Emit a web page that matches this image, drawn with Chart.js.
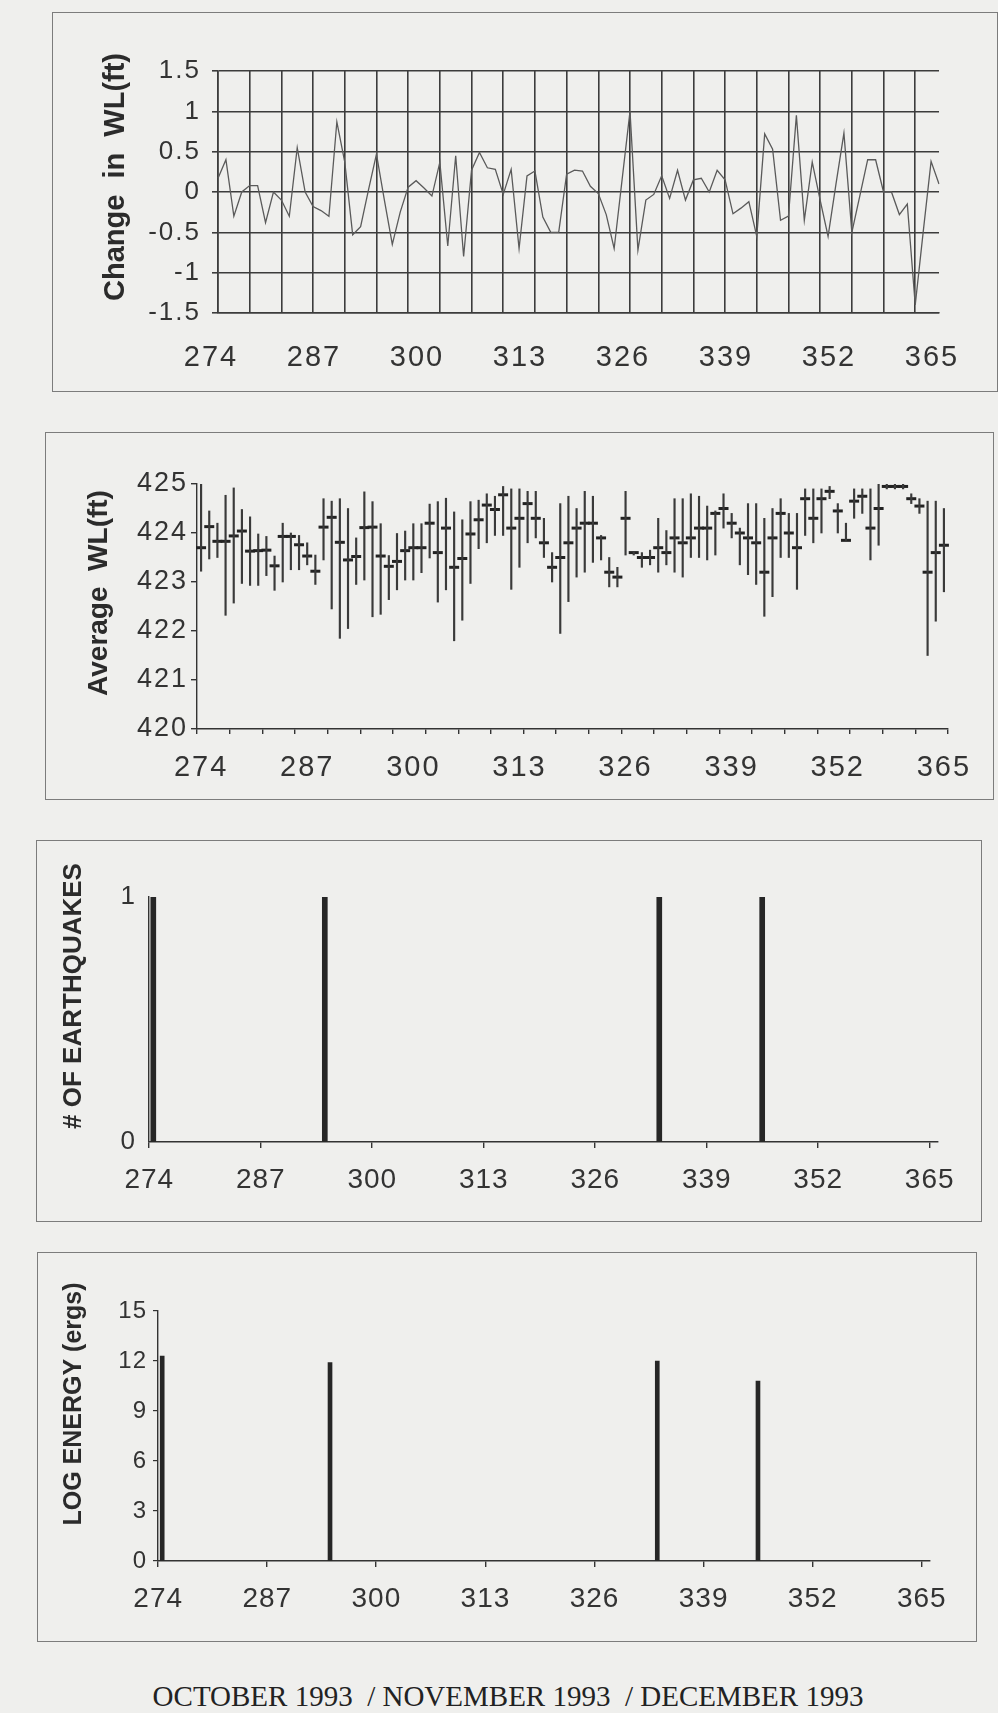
<!DOCTYPE html>
<html>
<head>
<meta charset="utf-8">
<script src="https://cdn.jsdelivr.net/npm/chart.js@4.4.1/dist/chart.umd.min.js"></script>
<style>
  html, body { margin: 0; padding: 0; }
  body { width: 998px; height: 1713px; background: #efefed; position: relative; overflow: hidden; }
  .frame { position: absolute; border: 1.5px solid #7c7c7c; }
  .frame canvas { display: block; }
  #caption {
    position: absolute; top: 1680px; left: 508px; transform: translateX(-50%);
    white-space: pre; font: 29px "Liberation Serif", "DejaVu Serif", serif; color: #222;
  }
</style>
</head>
<body>
<div class="frame" style="left:52px;top:12px;width:944px;height:378px"><canvas id="chart-change" width="944" height="378"></canvas></div>
<div class="frame" style="left:45px;top:432px;width:947px;height:366px"><canvas id="chart-avg" width="947" height="366"></canvas></div>
<div class="frame" style="left:36px;top:840px;width:944px;height:380px"><canvas id="chart-count" width="944" height="380"></canvas></div>
<div class="frame" style="left:37px;top:1252px;width:938px;height:388px"><canvas id="chart-energy" width="938" height="388"></canvas></div>
<div id="caption">OCTOBER 1993  / NOVEMBER 1993  / DECEMBER 1993</div>

<script>
const FIRST_DAY = 274;
const LAST_DAY = 365;
const labelDays = [274, 287, 300, 313, 326, 339, 352, 365];

// daily change in water level (ft), day 274..365
const wlChange = [
  0.17, 0.4, -0.3, 0.0, 0.08, 0.08, -0.38, 0.0, -0.1, -0.3,
  0.55, 0.0, -0.18, -0.23, -0.3, 0.87, 0.37, -0.53, -0.43, 0.03,
  0.47, -0.1, -0.65, -0.25, 0.06, 0.14, 0.05, -0.05, 0.37, -0.67,
  0.45, -0.8, 0.27, 0.49, 0.3, 0.28, -0.03, 0.28, -0.7, 0.2,
  0.26, -0.31, -0.5, -0.5, 0.22, 0.27, 0.26, 0.07, -0.02, -0.28,
  -0.7, 0.15, 1.0, -0.72, -0.1, -0.03, 0.2, -0.08, 0.27, -0.1,
  0.15, 0.17, 0.0, 0.27, 0.15, -0.27, -0.2, -0.12, -0.55, 0.72,
  0.53, -0.35, -0.3, 0.95, -0.35, 0.37, -0.1, -0.55, 0.1, 0.73,
  -0.5, -0.05, 0.4, 0.4, 0.0, 0.0, -0.28, -0.15, -1.4, -0.5,
  0.38, 0.1
];

// daily average / min / max water level (ft), day 274..365
const wlAvg = [
  423.7, 424.13, 423.83, 423.83, 423.94, 424.04, 423.63, 423.64, 423.65, 423.33,
  423.93, 423.93, 423.76, 423.53, 423.22, 424.12, 424.32, 423.81, 423.45, 423.52,
  424.11, 424.12, 423.53, 423.32, 423.42, 423.64, 423.7, 423.7, 424.2, 423.6,
  424.1, 423.3, 423.48, 423.98, 424.27, 424.57, 424.48, 424.78, 424.1, 424.3,
  424.6, 424.3, 423.8, 423.3, 423.5, 423.8, 424.1, 424.2, 424.2, 423.9,
  423.2, 423.1, 424.3, 423.6, 423.5, 423.5, 423.7, 423.6, 423.9, 423.8,
  423.9, 424.1, 424.1, 424.4, 424.5, 424.2, 424.0, 423.9, 423.8, 423.2,
  423.9, 424.4, 424.0, 423.7, 424.7, 424.3, 424.7, 424.85, 424.45, 423.85,
  424.65, 424.75, 424.1, 424.5, 424.95, 424.95, 424.95, 424.7, 424.55, 423.2,
  423.6, 423.75
];
const wlMin = [
  423.22, 423.47, 423.5, 422.32, 422.57, 422.97, 422.93, 422.93, 423.13, 422.83,
  423.0, 423.25, 423.25, 423.35, 422.95, 423.45, 422.45, 421.85, 422.05, 422.95,
  423.04, 422.29, 422.34, 422.64, 422.84, 423.04, 423.04, 423.19, 423.49, 422.59,
  422.84, 421.8, 422.22, 422.97, 423.68, 423.8, 423.95, 423.95, 422.85, 423.3,
  423.8, 423.9, 423.5, 423.0, 421.95, 422.6, 423.1, 423.2, 423.4, 423.45,
  422.9, 422.9, 423.55, 423.55, 423.3, 423.35, 423.2, 423.35, 423.2, 423.1,
  423.5, 423.5, 423.45, 423.55, 424.1, 423.9, 423.35, 423.15, 422.95, 422.3,
  422.7, 423.5, 423.5, 422.85, 423.95, 423.8, 424.0, 424.7, 424.0, 423.85,
  424.3, 424.4, 423.45, 423.75, 424.9, 424.9, 424.9, 424.6, 424.4, 421.5,
  422.2, 422.8
];
const wlMax = [
  425.0, 424.45, 424.2, 424.77, 424.92, 424.48, 424.33, 423.98, 423.93, 423.53,
  424.2, 424.0, 423.95, 423.8, 423.55, 424.7, 424.65, 424.7, 424.5, 423.9,
  424.84, 424.64, 424.19, 423.54, 423.99, 424.04, 424.19, 424.19, 424.59, 424.64,
  424.71, 424.43, 424.27, 424.64, 424.67, 424.8, 424.75, 424.95, 424.9, 424.9,
  424.85, 424.85, 424.3, 423.6, 424.6, 424.75, 424.5, 424.85, 424.75, 423.95,
  423.5, 423.3, 424.85, 423.62, 423.6, 423.65, 424.3, 424.05, 424.7, 424.7,
  424.8, 424.75, 424.55, 424.45, 424.8, 424.4, 424.1, 424.6, 424.6, 424.3,
  424.5, 424.7, 424.4, 424.4, 424.9, 424.9, 424.9, 424.95, 424.6, 424.2,
  424.9, 424.9, 424.9, 425.0, 425.0, 425.0, 425.0, 424.8, 424.7, 424.65,
  424.65, 424.5
];

// earthquakes
const quakeDays = [274, 294, 333, 345];
const quakeCount = [1, 1, 1, 1];
const quakeLogEnergy = [12.3, 11.9, 12.0, 10.8];

const days = [];
for (let d = FIRST_DAY; d <= LAST_DAY; d++) days.push(String(d));

const INK = '#333';
const GRID = '#3c3c3c';
const SANS = '"Liberation Sans", Arial, sans-serif';

Chart.defaults.font.family = SANS;
Chart.defaults.color = INK;
Chart.defaults.animation = false;
Chart.defaults.responsive = false;
Chart.defaults.plugins.legend.display = false;
Chart.defaults.plugins.tooltip.enabled = false;

function dayLabel(value) {
  const d = this.getLabelForValue(value);
  return labelDays.includes(+d) ? d : '';
}

// show a grid/tick line only on every n-th category
function everyNth(n, withEnd) {
  return ctx => {
    if (ctx.index === undefined) return withEnd ? INK : 'transparent';
    return ctx.index % n === 0 ? INK : 'transparent';
  };
}

function sideTitle(text, size, x, y) {
  return {
    id: 'sideTitle',
    afterDraw(chart) {
      const ctx = chart.ctx;
      ctx.save();
      ctx.letterSpacing = '0px';
      ctx.translate(x, y);
      ctx.rotate(-Math.PI / 2);
      ctx.font = `bold ${size}px ${SANS}`;
      ctx.fillStyle = '#2b2b2b';
      ctx.textAlign = 'center';
      ctx.textBaseline = 'middle';
      ctx.fillText(text, 0, 0);
      ctx.restore();
    }
  };
}

function spacing(px) {
  return { id: 'spacing', beforeDraw(chart) { chart.ctx.letterSpacing = px + 'px'; } };
}

// --- change in WL ---
new Chart(document.getElementById('chart-change'), {
  type: 'line',
  data: {
    labels: days,
    datasets: [{
      data: wlChange,
      borderColor: '#5a5a5a',
      borderWidth: 1.3,
      pointRadius: 0,
      tension: 0,
    }],
  },
  options: {
    layout: { padding: { top: 58, right: 58, left: 0, bottom: 0 } },
    scales: {
      x: {
        offset: false,
        grid: { offset: false, color: ctx => (ctx.index % 4 === 0 ? GRID : 'transparent'), lineWidth: 1.6, drawTicks: false },
        border: { color: GRID, width: 1.6 },
        ticks: { autoSkip: false, maxRotation: 0, minRotation: 0, padding: 28, labelOffset: -7, font: { size: 29 }, callback: dayLabel },
        afterFit: s => { s.height = 78; },
      },
      y: {
        min: -1.5,
        max: 1.5,
        ticks: { stepSize: 0.5, padding: 11, font: { size: 26 }, callback: v => String(v) },
        grid: { color: GRID, lineWidth: 1.6, tickLength: 6 },
        border: { color: GRID, width: 1.6 },
        afterFit: s => { s.width = 165; },
      },
    },
  },
  plugins: [spacing(2), sideTitle('Change  in  WL(ft)', 29, 63, 164)],
});

// --- average WL with daily range ---
new Chart(document.getElementById('chart-avg'), {
  type: 'bar',
  data: {
    labels: days,
    datasets: [
      {
        type: 'bar',
        data: wlMin.map((lo, i) => [lo, wlMax[i]]),
        backgroundColor: '#3a3a3a',
        barThickness: 1.5,
        borderWidth: 0,
      },
      {
        type: 'line',
        data: wlAvg,
        showLine: false,
        pointStyle: 'line',
        pointRadius: 5,
        pointBorderWidth: 3,
        pointBorderColor: '#222',
        borderColor: '#222',
      },
    ],
  },
  options: {
    layout: { padding: { top: 51, right: 45, left: 0, bottom: 0 } },
    scales: {
      x: {
        offset: true,
        grid: { offset: true, drawOnChartArea: false, tickLength: 5, lineWidth: 1.4, color: everyNth(4, true) },
        border: { color: INK, width: 1.4 },
        ticks: { autoSkip: false, maxRotation: 0, minRotation: 0, padding: 17, font: { size: 29 }, callback: dayLabel },
        afterFit: s => { s.height = 70; },
      },
      y: {
        min: 420,
        max: 425,
        ticks: { stepSize: 1, padding: 3, font: { size: 27 } },
        grid: { drawOnChartArea: false, tickLength: 6, lineWidth: 1.4, color: INK },
        border: { color: INK, width: 1.4 },
        afterFit: s => { s.width = 151; },
      },
    },
  },
  plugins: [spacing(2), sideTitle('Average  WL(ft)', 28, 53, 160)],
});

function quakeChart(id, values, opts) {
  return new Chart(document.getElementById(id), {
    type: 'bar',
    data: {
      labels: days,
      datasets: [{
        data: quakeDays.map((d, i) => ({ x: String(d), y: values[i] })),
        backgroundColor: '#262626',
        barThickness: opts.bar,
        borderWidth: 0,
      }],
    },
    options: {
      layout: { padding: { top: opts.top, right: opts.right, left: 0, bottom: 0 } },
      scales: {
        x: {
          offset: true,
          grid: { offset: true, drawOnChartArea: false, tickLength: 6, lineWidth: 1.4, color: everyNth(13, false) },
          border: { color: INK, width: 1.4 },
          ticks: { autoSkip: false, maxRotation: 0, minRotation: 0, padding: 15, labelOffset: -4, font: { size: 28 }, callback: dayLabel },
          afterFit: s => { s.height = opts.xh; },
        },
        y: {
          min: 0,
          max: opts.max,
          ticks: { stepSize: opts.step, padding: opts.ypad, font: { size: opts.yfont } },
          grid: { drawOnChartArea: false, drawTicks: opts.yticks, tickLength: 5, lineWidth: 1.2, color: INK },
          border: { color: INK, width: 1.4 },
          afterFit: s => { s.width = opts.yw; },
        },
      },
    },
    plugins: [spacing(1), sideTitle(opts.title, opts.tfont, opts.tx, opts.ty)],
  });
}

quakeChart('chart-count', quakeCount, {
  bar: 5, top: 56, right: 43, xh: 79, yw: 112, max: 1, step: 1, ypad: 13, yfont: 26, yticks: false,
  title: '# OF EARTHQUAKES', tfont: 26, tx: 37, ty: 155,
});

quakeChart('chart-energy', quakeLogEnergy, {
  bar: 4, top: 58, right: 46, xh: 80, yw: 120, max: 15, step: 3, ypad: 6, yfont: 24, yticks: true,
  title: 'LOG ENERGY (ergs)', tfont: 25, tx: 36, ty: 151,
});
</script>
</body>
</html>
